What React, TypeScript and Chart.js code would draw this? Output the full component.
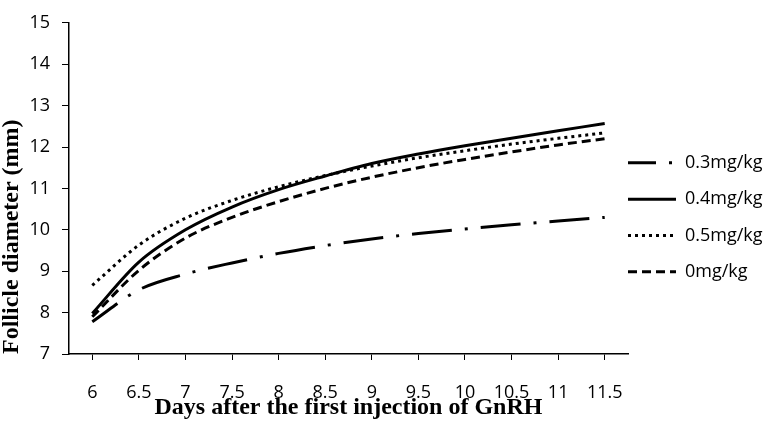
import { useEffect, useRef } from "react"
import Chart from "chart.js/auto"

const days = ["6", "6.5", "7", "7.5", "8", "8.5", "9", "9.5", "10", "10.5", "11", "11.5"]
const dose03 = [7.78, 8.55, 8.93, 9.2, 9.43, 9.62, 9.78, 9.91, 10.02, 10.12, 10.21, 10.3]
const dose04 = [7.98, 9.22, 10.0, 10.55, 10.97, 11.3, 11.6, 11.83, 12.03, 12.21, 12.39, 12.57]
const dose05 = [8.66, 9.63, 10.28, 10.71, 11.04, 11.31, 11.54, 11.74, 11.91, 12.07, 12.21, 12.34]
const dose0 = [7.9, 9.02, 9.8, 10.3, 10.68, 11.0, 11.27, 11.5, 11.7, 11.88, 12.05, 12.2]
const seriesNames = ["0.3mg/kg", "0.4mg/kg", "0.5mg/kg", "0mg/kg"]

const sans = "'Open Sans', 'Noto Sans', sans-serif"
const serif = "'Liberation Serif', 'DejaVu Serif', serif"

const FollicleChart = () => {
  const chartRef = useRef<HTMLCanvasElement>(null)

  useEffect(() => {
    if (!chartRef.current) return
    const ctx = chartRef.current.getContext("2d")
    if (!ctx) return

    const dashes = [[40, 13, 3, 13], [], [3, 4], [9, 5]]
    const offsets = [9, 0, 0, 0]
    const values = [dose03, dose04, dose05, dose0]

    const chart = new Chart(ctx, {
      type: "line",
      data: {
        labels: days,
        datasets: values.map((v, i) => ({
          label: seriesNames[i],
          data: v,
          borderColor: "#000",
          backgroundColor: "#000",
          borderWidth: 3,
          borderDash: dashes[i],
          borderDashOffset: offsets[i],
          pointRadius: 0,
          fill: false,
          cubicInterpolationMode: "monotone" as const
        }))
      },
      options: {
        responsive: false,
        animation: false,
        layout: { padding: { top: 11, left: 0, right: 0, bottom: 3 } },
        plugins: {
          tooltip: { enabled: false },
          legend: {
            position: "right",
            maxWidth: 137,
            // empty title only nudges the legend column down
            title: { display: true, text: "", font: { size: 10, lineHeight: 1 }, padding: { top: 12, bottom: 0 } },
            labels: {
              usePointStyle: true,
              pointStyleWidth: 48,
              padding: 0,
              color: "#000",
              font: { family: sans, size: 18, lineHeight: 2.02 },
              generateLabels: (c: any) =>
                c.data.datasets.map((ds: any, i: number) => ({
                  text: [ds.label],
                  fillStyle: "rgba(0,0,0,0)",
                  strokeStyle: "#000",
                  fontColor: "#000",
                  lineWidth: 3,
                  lineDash: ds.borderDash,
                  lineDashOffset: i === 0 ? 12 : 0,
                  lineCap: "butt",
                  pointStyle: "line",
                  rotation: 180,
                  hidden: false,
                  datasetIndex: i
                }))
            }
          }
        },
        scales: {
          x: {
            offset: true,
            afterFit: (s: any) => {
              s.height = 66
            },
            grid: { display: true, drawOnChartArea: false, drawTicks: true, tickLength: 6, tickColor: "#000", offset: false },
            border: { display: true, color: "#000", width: 1.5 },
            ticks: { color: "#000", padding: 22, maxRotation: 0, font: { family: sans, size: 18 } },
            title: {
              display: true,
              text: "Days after the first injection of GnRH",
              color: "#000",
              font: { family: serif, size: 24, weight: "bold", lineHeight: 1 },
              padding: { top: 0, bottom: 0 }
            }
          },
          y: {
            min: 7,
            max: 15,
            afterFit: (s: any) => {
              s.width = 69
            },
            grid: { display: true, drawOnChartArea: false, drawTicks: true, tickLength: 7, tickColor: "#000" },
            border: { display: true, color: "#000", width: 1.5 },
            ticks: { stepSize: 1, color: "#000", padding: 12, font: { family: sans, size: 18 } },
            title: {
              display: true,
              text: "Follicle diameter (mm)",
              align: "start",
              color: "#000",
              font: { family: serif, size: 24, weight: "bold", lineHeight: 1 },
              padding: { top: 0, bottom: 0 }
            }
          }
        }
      }
    })

    return () => {
      chart.destroy()
    }
  }, [])

  return (
    <div style={{ position: "absolute", left: 0, top: 0, width: 765, height: 423, background: "#fff" }}>
      <canvas ref={chartRef} width="765" height="423"></canvas>
    </div>
  )
}

export default function App() {
  return <FollicleChart />
}
